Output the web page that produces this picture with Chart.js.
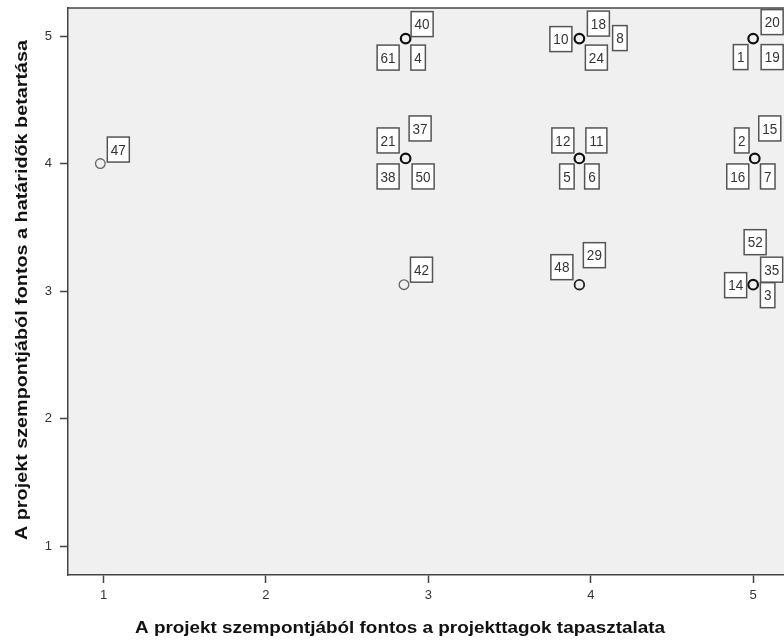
<!DOCTYPE html>
<html>
<head>
<meta charset="utf-8">
<script src="https://cdn.jsdelivr.net/npm/chart.js@4/dist/chart.umd.min.js"></script>
<style>
html,body{margin:0;padding:0;background:#fff;overflow:hidden;}
#wrap{width:784px;height:641px;position:relative;}
</style>
</head>
<body>
<div id="wrap"><canvas id="c" width="784" height="641"></canvas></div>
<script>
// ---- data (jittered positions as drawn) ----
const X_TITLE = "A projekt szempontjából fontos a projekttagok tapasztalata";
const Y_TITLE = "A projekt szempontjából fontos a határidők betartása";
const X_TICKS = [1, 2, 3, 4, 5];
const Y_TICKS = [1, 2, 3, 4, 5];
const POINT_X = [0.98, 2.86, 2.86, 2.85, 3.93, 3.93, 3.93, 5.00, 5.01, 5.00];
const POINT_Y = [4.00, 4.98, 4.04, 3.05, 4.98, 4.04, 3.05, 4.98, 4.04, 3.05];
const CASE_IDS = [
  ["47"],
  ["40", "61", "4"],
  ["21", "37", "38", "50"],
  ["42"],
  ["10", "18", "8", "24"],
  ["12", "11", "5", "6"],
  ["48", "29"],
  ["20", "1", "19"],
  ["2", "15", "16", "7"],
  ["14", "52", "35", "3"]
];

// ---- layout / style (label box centre offsets from the marker, px) ----
const LABEL_OFFSETS = [
  [[18, -14]],
  [[16.5, -14.5], [-17.5, 19], [12.5, 19]],
  [[-17.5, -18], [14.5, -30], [-17.5, 18], [17.5, 18]],
  [[17.5, -15]],
  [[-18.5, 0.5], [19, -15], [40.5, -0.5], [17, 19]],
  [[-16.5, -18], [17, -18], [-12.5, 18], [12.5, 18]],
  [[-17.5, -17.5], [15, -29.5]],
  [[19, -16.5], [-12.5, 18.5], [19, 18.5]],
  [[-13, -18], [15, -30], [-17, 18], [13, 18]],
  [[-17.5, 0.5], [2, -42.5], [18.5, -15], [14.5, 10.5]]
];
const MARKER_COLOR = ["#666", "#111", "#111", "#666", "#111", "#111", "#222", "#111", "#111", "#111"];
const MARKER_WIDTH = [1.3, 2.2, 2.2, 1.3, 2.2, 2.2, 1.8, 2.2, 2.2, 2.2];

const FONT = "'Liberation Sans', Arial, sans-serif";

function stretchedText(ctx, text, cx, cy, targetW, rot) {
  ctx.save();
  ctx.translate(cx, cy);
  if (rot) ctx.rotate(rot);
  const w = ctx.measureText(text).width;
  ctx.scale(targetW / w, 1);
  ctx.fillText(text, 0, 0);
  ctx.restore();
}

const plotBg = {
  id: 'plotBg',
  beforeDraw(chart) {
    const {ctx, chartArea: a} = chart;
    ctx.save();
    ctx.fillStyle = '#f0f0f0';
    ctx.fillRect(a.left, a.top, a.right - a.left, a.bottom - a.top);
    ctx.restore();
  },
  afterDraw(chart) {
    const {ctx, chartArea: a} = chart;
    ctx.save();
    ctx.strokeStyle = '#444';
    ctx.lineWidth = 1.5;
    ctx.beginPath();
    ctx.moveTo(a.left, a.top);
    ctx.lineTo(a.right, a.top);
    ctx.stroke();
    // axis titles
    ctx.fillStyle = '#111';
    ctx.font = "bold 17px " + FONT;
    ctx.textAlign = 'center';
    ctx.textBaseline = 'middle';
    stretchedText(ctx, X_TITLE, 400, 628, 530, 0);
    stretchedText(ctx, Y_TITLE, 22, 290, 500, -Math.PI / 2);
    ctx.restore();
  }
};

const caseLabels = {
  id: 'caseLabels',
  afterDatasetsDraw(chart) {
    const {ctx} = chart;
    const meta = chart.getDatasetMeta(0);
    ctx.save();
    ctx.font = "15px " + FONT;
    ctx.textAlign = 'center';
    ctx.textBaseline = 'middle';
    meta.data.forEach((pt, i) => {
      CASE_IDS[i].forEach((id, j) => {
        const off = LABEL_OFFSETS[i][j];
        const cx = pt.x + off[0], cy = pt.y + off[1];
        const tw = ctx.measureText(id).width;
        const w = tw * 0.9 + 7, h = 25;
        ctx.fillStyle = '#fff';
        ctx.fillRect(cx - w / 2, cy - h / 2, w, h);
        ctx.strokeStyle = '#555';
        ctx.lineWidth = 1.5;
        ctx.strokeRect(cx - w / 2, cy - h / 2, w, h);
        ctx.fillStyle = '#333';
        ctx.save();
        ctx.translate(cx, cy + 1);
        ctx.scale(0.9, 1);
        ctx.fillText(id, 0, 0);
        ctx.restore();
      });
    });
    ctx.restore();
  }
};

const points = POINT_X.map((x, i) => ({x: x, y: POINT_Y[i]}));

new Chart(document.getElementById('c'), {
  type: 'scatter',
  data: {
    datasets: [{
      data: points,
      pointRadius: 4.8,
      pointHoverRadius: 4.8,
      pointBackgroundColor: 'rgba(0,0,0,0)',
      pointBorderColor: MARKER_COLOR,
      pointBorderWidth: MARKER_WIDTH,
      clip: false
    }]
  },
  options: {
    responsive: false,
    animation: false,
    layout: {autoPadding: false, padding: {top: 8, right: 0, left: 0, bottom: 0}},
    plugins: {legend: {display: false}, tooltip: {enabled: false}},
    scales: {
      x: {
        type: 'linear',
        min: 0.781, max: 5.19,
        afterBuildTicks(s) { s.ticks = X_TICKS.map(v => ({value: v})); },
        afterFit(s) { s.height = 66; s.paddingLeft = 0; s.paddingRight = 0; s.paddingTop = 0; s.paddingBottom = 0; },
        grid: {display: true, drawOnChartArea: false, drawTicks: true, tickLength: 8, tickColor: '#444', tickWidth: 1.5},
        border: {display: true, color: '#444', width: 1.5},
        ticks: {color: '#333', font: {size: 13, family: FONT}, padding: 5, maxRotation: 0}
      },
      y: {
        type: 'linear',
        min: 0.773, max: 5.22,
        afterBuildTicks(s) { s.ticks = Y_TICKS.map(v => ({value: v})); },
        afterFit(s) { s.width = 68; s.paddingLeft = 0; s.paddingRight = 0; s.paddingTop = 0; s.paddingBottom = 0; },
        grid: {display: true, drawOnChartArea: false, drawTicks: true, tickLength: 8, tickColor: '#444', tickWidth: 1.5},
        border: {display: true, color: '#444', width: 1.5},
        ticks: {color: '#333', font: {size: 13, family: FONT}, padding: 8}
      }
    }
  },
  plugins: [plotBg, caseLabels]
});
</script>
</body>
</html>
